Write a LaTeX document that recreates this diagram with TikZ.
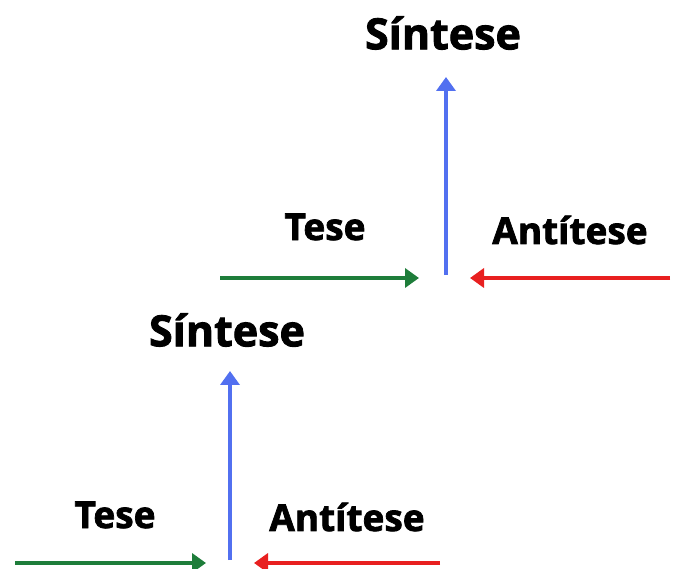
\documentclass[tikz,border=0pt]{standalone}
\usepackage{fontspec}
\setmainfont{Open Sans}[BoldFeatures={FakeBold=2}]
\usetikzlibrary{arrows.meta}

\definecolor{tgreen}{RGB}{30,125,58}
\definecolor{tblue}{RGB}{82,112,240}
\definecolor{tred}{RGB}{232,32,32}

\begin{document}
\begin{tikzpicture}[x=1pt,y=-1pt,
    arr/.style={line width=4.5pt,-{Triangle[length=14pt,width=19pt]}},
    big/.style={font=\fontsize{43}{43}\selectfont\bfseries},
    small/.style={font=\fontsize{37}{37}\selectfont\bfseries}]
        \useasboundingbox (0,0) rectangle (678,569);

        % upper step
        \coordinate (G1) at (220,278);
        \coordinate (GE1) at (419,278);
        \coordinate (R1) at (670,278);
        \coordinate (RE1) at (470,278);
        \coordinate (B1) at (446,275);
        \coordinate (BE1) at (446,77);
        \node[small] (T1) at (325,227) {Tese};
        \node[small] (A1) at (570,230) {Antítese};
        \node[big] (S1) at (443,33) {Síntese};

        % lower step
        \coordinate (G2) at (15,563);
        \coordinate (GE2) at (206,563);
        \coordinate (R2) at (440,563);
        \coordinate (RE2) at (254,563);
        \coordinate (B2) at (230,560);
        \coordinate (BE2) at (230,371);
        \node[small] (T2) at (115,515) {Tese};
        \node[small] (A2) at (347,517) {Antítese};
        \node[big] (S2) at (227,330) {Síntese};

        \draw [arr,tgreen](G1) -- (GE1);
        \draw [arr,tred](R1) -- (RE1);
        \draw [arr,tblue](B1) -- (BE1);
        \draw [arr,tgreen](G2) -- (GE2);
        \draw [arr,tred](R2) -- (RE2);
        \draw [arr,tblue](B2) -- (BE2);
\end{tikzpicture}
\end{document}
